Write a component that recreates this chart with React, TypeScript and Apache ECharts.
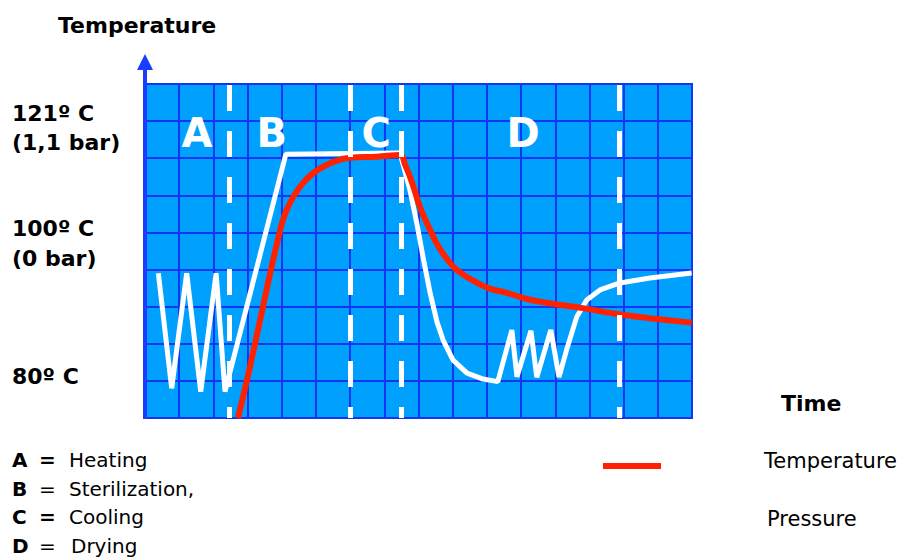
import React, { useEffect, useRef } from "react";
import * as echarts from "echarts";

// Grid units: x = columns of the chart grid (time), y = rows (0 = bottom)
const pressureX = [0.39, 0.78, 1.22, 1.63, 2.08, 2.34, 4.12, 7.46, 7.75, 7.95, 8.13, 8.34, 8.54, 8.72, 9.01, 9.42, 9.89, 10.32, 10.73, 10.88, 11.29, 11.46, 11.87, 12.11, 12.33, 12.63, 12.92, 13.31, 13.89, 14.77, 15.99];
const pressureY = [3.9, 0.8, 3.9, 0.71, 3.9, 0.71, 7.11, 7.14, 6.14, 5.25, 4.35, 3.37, 2.59, 2.1, 1.56, 1.21, 1.05, 0.98, 2.37, 1.11, 2.35, 1.1, 2.37, 1.1, 1.83, 2.73, 3.18, 3.45, 3.64, 3.77, 3.91];

const tempX = [2.72, 3.07, 3.45, 3.85, 4.14, 4.62, 5.21, 6.0, 6.78, 7.46, 7.61, 7.75, 7.9, 8.04, 8.19, 8.34, 8.51, 8.68, 8.87, 9.07, 9.3, 9.56, 10.04, 10.63, 11.2, 11.85, 12.81, 13.8, 14.77, 15.99];
const tempY = [0, 1.38, 3.0, 4.66, 5.6, 6.33, 6.77, 7.01, 7.04, 7.09, 6.82, 6.5, 6.09, 5.69, 5.36, 5.07, 4.74, 4.48, 4.24, 4.03, 3.87, 3.72, 3.5, 3.36, 3.2, 3.09, 2.96, 2.8, 2.69, 2.57];

const phaseBoundaries = [2.46, 6.01, 7.49, 13.88];
const phaseLabels = ["A", "B", "C", "D"];
const phaseLabelX = [1.52, 3.71, 6.76, 11.06];
const phaseLabelY = [7.68, 7.68, 7.68, 7.68];

const legendKeys = ["A", "B", "C", "D"];
const legendEqBold = [true, false, true, false];
const legendNames = ["Heating", "Sterilization,", "Cooling", "Drying"];
const seriesNames = ["Temperature", "Pressure"];

const FONT = "DejaVu Sans, Verdana, sans-serif";

export default function App() {
  const ref = useRef<HTMLDivElement>(null);
  useEffect(() => {
    if (!ref.current) return;
    const chart = echarts.init(ref.current, null, { renderer: "svg" });
    const gridLine = "#1535F5";

    const legendGraphics: any[] = [];
    legendKeys.forEach((k, i) => {
      const cy = 460 + i * 28.7;
      legendGraphics.push({
        type: "text",
        x: 12,
        y: cy,
        style: { text: k, font: `bold 20px ${FONT}`, fill: "#000", verticalAlign: "middle" },
      });
      legendGraphics.push({
        type: "text",
        x: 39,
        y: cy,
        style: { text: "=", font: `${legendEqBold[i] ? "bold " : ""}20px ${FONT}`, fill: "#000", verticalAlign: "middle" },
      });
      legendGraphics.push({
        type: "text",
        x: i === 3 ? 71 : 69,
        y: cy,
        style: { text: legendNames[i], font: `20px ${FONT}`, fill: "#000", verticalAlign: "middle" },
      });
    });

    const textBold = (t: string, x: number, y: number) => ({
      type: "text",
      x,
      y,
      style: { text: t, font: `bold 22px ${FONT}`, fill: "#000", verticalAlign: "middle" },
    });

    chart.setOption({
      animation: false,
      backgroundColor: "#ffffff",
      grid: {
        left: 145,
        top: 84,
        width: 547,
        height: 334,
        show: true,
        backgroundColor: "#00A0FF",
        borderColor: gridLine,
        borderWidth: 2,
      },
      xAxis: {
        type: "value",
        min: 0,
        max: 16,
        interval: 1,
        axisLine: { show: false },
        axisTick: { show: false },
        axisLabel: { show: false },
        splitLine: { show: true, lineStyle: { color: gridLine, width: 2 } },
      },
      yAxis: {
        type: "value",
        min: 0,
        max: 9,
        interval: 1,
        axisLine: { show: false },
        axisTick: { show: false },
        axisLabel: { show: false },
        splitLine: { show: true, lineStyle: { color: gridLine, width: 2 } },
      },
      series: [
        {
          name: "phases",
          type: "line",
          data: [],
          z: 1,
          silent: true,
          markLine: {
            silent: true,
            symbol: ["none", "none"],
            label: { show: false },
            lineStyle: { color: "#ffffff", width: 5, type: [26, 20], dashOffset: 15 },
            data: phaseBoundaries.map((x) => ({ xAxis: x })),
          },
        },
        {
          name: seriesNames[1],
          type: "line",
          z: 3,
          symbol: "none",
          smooth: false,
          itemStyle: { color: "#ffffff" },
          lineStyle: { color: "#ffffff", width: 5 },
          data: pressureX.map((x, i) => [x, pressureY[i]]),
        },
        {
          name: seriesNames[0],
          type: "line",
          z: 4,
          symbol: "none",
          smooth: 0.4,
          itemStyle: { color: "#FF2200" },
          lineStyle: { color: "#FF2200", width: 6 },
          data: tempX.map((x, i) => [x, tempY[i]]),
        },
        {
          name: "labels",
          type: "scatter",
          z: 5,
          symbolSize: 0,
          silent: true,
          itemStyle: { opacity: 1 },
          data: phaseLabels.map((n, i) => ({ name: n, value: [phaseLabelX[i], phaseLabelY[i]] })),
          label: {
            show: true,
            position: "inside",
            formatter: (p: any) => p.name,
            color: "#ffffff",
            opacity: 1,
            fontFamily: FONT,
            fontWeight: "bold",
            fontSize: 40,
          },
        },
      ],
      graphic: [
        {
          type: "line",
          shape: { x1: 145, y1: 419, x2: 145, y2: 66 },
          style: { stroke: "#1A3CFF", lineWidth: 4 },
          z: 10,
        },
        {
          type: "polygon",
          shape: { points: [[145, 54], [137, 70], [153, 70]] },
          style: { fill: "#1A3CFF" },
          z: 10,
        },
        textBold("Temperature", 58, 25),
        textBold("121º C", 12, 113),
        textBold("(1,1 bar)", 12, 142),
        textBold("100º C", 12, 228),
        textBold("(0 bar)", 12, 258),
        textBold("80º C", 12, 376),
        textBold("Time", 781, 403),
        ...legendGraphics,
        {
          type: "rect",
          shape: { x: 603, y: 463, width: 58, height: 6 },
          style: { fill: "#FF2200" },
        },
        {
          type: "text",
          x: 764,
          y: 461,
          style: { text: seriesNames[0], font: `21px ${FONT}`, fill: "#000", verticalAlign: "middle" },
        },
        {
          type: "text",
          x: 767,
          y: 519,
          style: { text: seriesNames[1], font: `21px ${FONT}`, fill: "#000", verticalAlign: "middle" },
        },
      ],
    });
    return () => chart.dispose();
  }, []);
  return <div ref={ref} style={{ position: "absolute", left: 0, top: 0, width: 902, height: 558 }} />;
}
